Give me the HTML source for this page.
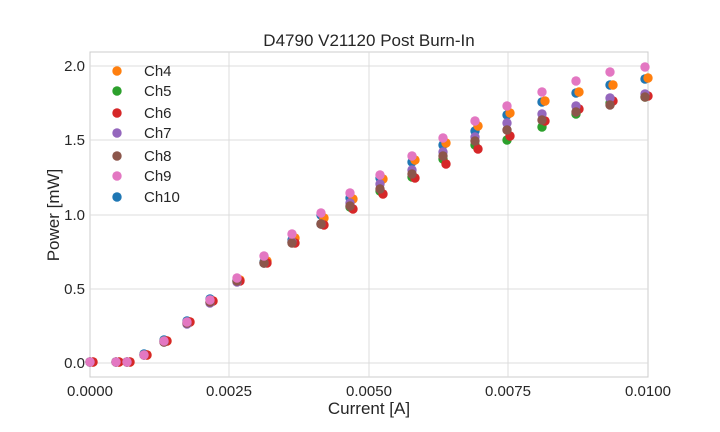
<!DOCTYPE html>
<html><head><meta charset="utf-8"><style>
body{margin:0;background:#fff;}
svg{display:block;font-family:"Liberation Sans",sans-serif;}
</style></head><body>
<svg id="s" width="720" height="432" xmlns="http://www.w3.org/2000/svg">
<rect x="90" y="52" width="558" height="325" fill="#fff" stroke="#cccccc" stroke-width="1"/>
<g stroke="#dcdcdc" stroke-width="1">
<line x1="229" y1="52" x2="229" y2="377"/><line x1="369" y1="52" x2="369" y2="377"/><line x1="508" y1="52" x2="508" y2="377"/>
<line x1="90" y1="66" x2="648" y2="66"/><line x1="90" y1="140" x2="648" y2="140"/><line x1="90" y1="215" x2="648" y2="215"/><line x1="90" y1="289" x2="648" y2="289"/><line x1="90" y1="363" x2="648" y2="363"/>
</g>
<g fill="#262626" font-size="15" text-anchor="middle">
<text x="90" y="396">0.0000</text><text x="229" y="396">0.0025</text><text x="369" y="396">0.0050</text><text x="508" y="396">0.0075</text><text x="648" y="396">0.0100</text>
</g>
<g fill="#262626" font-size="15" text-anchor="end">
<text x="85" y="71">2.0</text><text x="85" y="145">1.5</text><text x="85" y="220">1.0</text><text x="85" y="294">0.5</text><text x="85" y="368">0.0</text>
</g>
<text x="369" y="46" font-size="17" text-anchor="middle" fill="#262626">D4790 V21120 Post Burn-In</text>
<text x="369" y="414" font-size="17" text-anchor="middle" fill="#262626">Current [A]</text>
<text transform="translate(59,215) rotate(-90)" font-size="17" text-anchor="middle" fill="#262626">Power [mW]</text>
<g id="pts"></g>
<g id="leg" font-size="15" fill="#262626"></g>
</svg>
<script>
var C={o:"#ff7f0e",g:"#2ca02c",r:"#d62728",p:"#9467bd",b:"#8c564b",k:"#e377c2",u:"#1f77b4"};
var cols=[
[90,[362,362,362,362,362,362,362]],
[116,[362,362,362,362,362,362,362]],
[127,[362,362,362,362,362,362,362]],
[144,[355,355,355,355,355,355,354]],
[164,[341,341,341,342,342,341,340]],
[187,[322,323,322,324,323,322,321]],
[210,[301,302,301,303,302,300,299]],
[237,[280,281,281,282,281,278,280]],
[264,[261,263,263,263,263,256,262]],
[292,[238,242,243,242,243,234,240]],
[321,[218,224,225,224,224,213,215]],
[350,[199,207,209,203,206,193,198]],
[380,[179,191,194,184,189,175,178]],
[412,[160,177,178,170,174,156,162]],
[443,[143,159,164,152,156,138,145]],
[475,[126,145,149,137,141,121,131]],
[507,[113,140,136,123,130,106,115]],
[542,[101,127,121,114,120,92,102]],
[576,[92,114,109,106,112,81,93]],
[610,[85,103,101,98,105,72,85]],
[645,[78,97,96,94,97,67,79]]];
var keys=["o","g","r","p","b","k","u"],dx={o:3,r:3};
var order=[6,0,1,2,3,4,5];
var h="";
order.forEach(function(i){var k=keys[i];cols.forEach(function(c){
var x=c[0]+(dx[k]||0);if(x>648)x=648;
h+='<circle cx="'+x+'" cy="'+c[1][i]+'" r="4.7" fill="'+C[k]+'"/>';});});
document.getElementById("pts").innerHTML=h;
var names=["Ch4","Ch5","Ch6","Ch7","Ch8","Ch9","Ch10"],ys=[71,91,113,133,156,176,197],l="";
keys.forEach(function(k,i){l+='<circle cx="117" cy="'+ys[i]+'" r="4.7" fill="'+C[k]+'"/><text x="144" y="'+(ys[i]+5)+'">'+names[i]+'</text>';});
document.getElementById("leg").innerHTML=l;
</script>
</body></html>
